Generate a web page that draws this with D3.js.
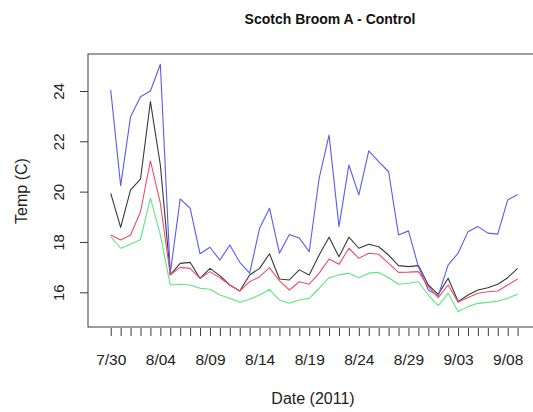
<!DOCTYPE html>
<html>
<head>
<meta charset="utf-8">
<script src="https://cdn.jsdelivr.net/npm/d3@7"></script>
<style>
  html, body { margin: 0; padding: 0; background: #fff; }
  svg { display: block; font-family: "Liberation Sans", Arial, sans-serif; }
</style>
</head>
<body>
<svg id="chart" width="533" height="412"></svg>
<script>
// Daily readings, 30 Jul - 9 Sep 2011
const dates = [
  "2011-07-30","2011-07-31","2011-08-01","2011-08-02","2011-08-03","2011-08-04",
  "2011-08-05","2011-08-06","2011-08-07","2011-08-08","2011-08-09","2011-08-10",
  "2011-08-11","2011-08-12","2011-08-13","2011-08-14","2011-08-15","2011-08-16",
  "2011-08-17","2011-08-18","2011-08-19","2011-08-20","2011-08-21","2011-08-22",
  "2011-08-23","2011-08-24","2011-08-25","2011-08-26","2011-08-27","2011-08-28",
  "2011-08-29","2011-08-30","2011-08-31","2011-09-01","2011-09-02","2011-09-03",
  "2011-09-04","2011-09-05","2011-09-06","2011-09-07","2011-09-08","2011-09-09"
];

const blueTemps = [
  24.04, 20.24, 22.98, 23.77, 24.00, 25.06, 16.76, 19.71, 19.34, 17.53,
  17.79, 17.28, 17.88, 17.19, 16.76, 18.54, 19.34, 17.55, 18.30, 18.16,
  17.61, 20.53, 22.25, 18.61, 21.06, 19.87, 21.62, 21.19, 20.79, 18.28,
  18.44, 17.02, 16.09, 15.86, 17.09, 17.55, 18.41, 18.61, 18.35, 18.31,
  19.67, 19.89
];
const blackTemps = [
  19.93, 18.58, 20.07, 20.50, 23.58, 21.06, 16.69, 17.15, 17.19, 16.55,
  16.95, 16.66, 16.29, 16.05, 16.69, 16.95, 17.53, 16.53, 16.49, 16.89,
  16.69, 17.48, 18.19, 17.41, 18.19, 17.75, 17.91, 17.81, 17.48, 17.06,
  17.02, 17.06, 16.29, 15.92, 16.56, 15.63, 15.89, 16.09, 16.18, 16.32,
  16.58, 16.95
];
const redTemps = [
  18.28, 18.08, 18.28, 19.20, 21.22, 19.54, 16.69, 16.99, 16.95, 16.55,
  16.82, 16.58, 16.29, 16.05, 16.42, 16.62, 16.98, 16.45, 16.09, 16.42,
  16.32, 16.76, 17.32, 17.11, 17.75, 17.35, 17.55, 17.51, 17.15, 16.79,
  16.80, 16.82, 16.22, 15.79, 16.29, 15.60, 15.79, 15.96, 16.02, 16.05,
  16.29, 16.53
];
const greenTemps = [
  18.21, 17.75, 17.91, 18.10, 19.74, 18.28, 16.29, 16.32, 16.29, 16.16,
  16.12, 15.89, 15.76, 15.60, 15.72, 15.89, 16.12, 15.69, 15.56, 15.69,
  15.76, 16.16, 16.58, 16.69, 16.76, 16.58, 16.76, 16.79, 16.58, 16.32,
  16.36, 16.42, 15.89, 15.47, 15.96, 15.23, 15.43, 15.56, 15.60, 15.65,
  15.76, 15.92
];

const yTicks = [16, 18, 20, 22, 24];
const xLabels = ["7/30", "8/04", "8/09", "8/14", "8/19", "8/24", "8/29", "9/03", "9/08"];

const titleText = "Scotch Broom A - Control";
const xTitle = "Date (2011)";
const yTitle = "Temp (C)";

const series = [
  { name: "black", values: blackTemps, color: "#383838" },
  { name: "blue",  values: blueTemps,  color: "#5a5af6" },
  { name: "red",   values: redTemps,   color: "#f04e66" },
  { name: "green", values: greenTemps, color: "#5fe480" }
];

const parse = d3.utcParse("%Y-%m-%d");
const days = dates.map(parse);

const svg = d3.select("#chart");
const plot = { left: 88, top: 54, right: 538, bottom: 327 };

const dayMs = 864e5;
const x = d3.scaleUtc()
  .domain([new Date(+days[0] - 2.29 * dayMs), new Date(+days[days.length - 1] + 1.55 * dayMs)])
  .range([plot.left, plot.right - 5]);

const y = d3.scaleLinear()
  .domain([14.62, 25.47])
  .range([plot.bottom, plot.top]);

// plot frame
svg.append("rect")
  .attr("x", plot.left).attr("y", plot.top)
  .attr("width", plot.right - plot.left).attr("height", plot.bottom - plot.top)
  .attr("fill", "none").attr("stroke", "#3a3a3a").attr("stroke-width", 1);

// temperature lines
const line = d3.line()
  .x((d, i) => x(days[i]))
  .y(d => y(d));

svg.append("g").selectAll("path")
  .data(series)
  .join("path")
  .attr("d", s => line(s.values))
  .attr("fill", "none")
  .attr("stroke", s => s.color)
  .attr("stroke-width", 1.1)
  .attr("stroke-linejoin", "round");

// y axis: ticks with labels parallel to the axis
const yAxis = d3.axisLeft(y).tickValues(yTicks).tickSize(8).tickFormat(d3.format("d"));
const gy = svg.append("g").attr("transform", `translate(${plot.left},0)`).call(yAxis);
gy.select(".domain").remove();
gy.selectAll(".tick line").attr("stroke", "#3a3a3a");
gy.selectAll(".tick text")
  .attr("x", null).attr("dy", null)
  .attr("transform", "translate(-24,0) rotate(-90)")
  .attr("text-anchor", "middle")
  .attr("font-size", 15)
  .attr("font-family", "'Liberation Sans', Arial, sans-serif")
  .attr("fill", "#222");

// x axis: one tick per day, labels every fifth day
const labelSet = new Map(xLabels.map((l, i) => [+days[i * 5], l]));
const xAxis = d3.axisBottom(x)
  .tickValues(days)
  .tickSize(8)
  .tickFormat(d => labelSet.get(+d) || "");
const gx = svg.append("g").attr("transform", `translate(0,${plot.bottom + 1})`).call(xAxis);
gx.select(".domain").remove();
gx.selectAll(".tick line").attr("stroke", "#3a3a3a");
gx.selectAll(".tick text")
  .attr("y", 26)
  .attr("dy", "0.71em")
  .attr("font-size", 15.5)
  .attr("font-family", "'Liberation Sans', Arial, sans-serif")
  .attr("fill", "#222");

// titles
svg.append("text")
  .attr("x", 330).attr("y", 24)
  .attr("text-anchor", "middle")
  .attr("font-weight", "bold")
  .attr("font-size", 14)
  .attr("fill", "#111")
  .text(titleText);

svg.append("text")
  .attr("x", 313).attr("y", 404)
  .attr("text-anchor", "middle")
  .attr("font-size", 16)
  .attr("fill", "#222")
  .text(xTitle);

svg.append("text")
  .attr("transform", "translate(27,191) rotate(-90)")
  .attr("text-anchor", "middle")
  .attr("font-size", 16)
  .attr("fill", "#222")
  .text(yTitle);
</script>
</body>
</html>
